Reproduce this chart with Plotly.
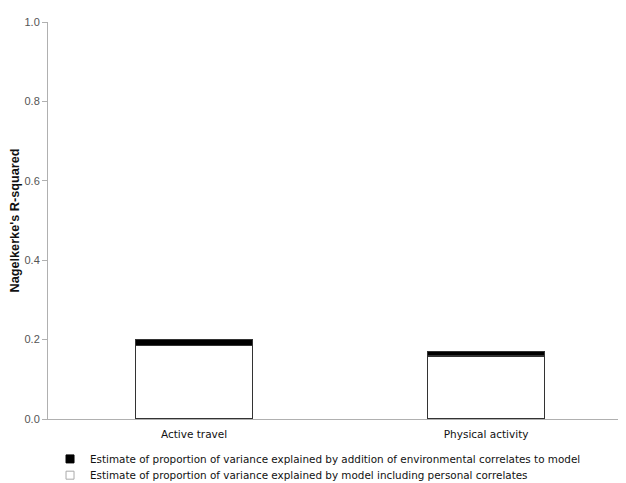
import plotly.graph_objects as go

categories = ["Active travel", "Physical activity"]
personal = [0.186, 0.159]
environmental = [0.015, 0.010]
legend_personal = "Estimate of proportion of variance explained by model including personal correlates"
legend_env = "Estimate of proportion of variance explained by addition of environmental correlates to model"
y_ticks = [0.0, 0.2, 0.4, 0.6, 0.8, 1.0]
y_ticktext = ["0.0", "0.2", "0.4", "0.6", "0.8", "1.0"]

fig = go.Figure()
fig.add_trace(go.Bar(
    x=categories, y=personal, name=legend_personal,
    marker=dict(color="white", line=dict(color="#333333", width=1.5)),
    width=0.40, showlegend=False,
))
fig.add_trace(go.Bar(
    x=categories, y=environmental, name=legend_env,
    marker=dict(color="black", line=dict(color="#333333", width=1.0)),
    width=0.40, showlegend=False,
))
# legend entries
fig.add_trace(go.Scatter(
    x=[None], y=[None], mode="markers", name=legend_env, legend="legend",
    marker=dict(symbol="square", size=8, color="black", line=dict(color="black", width=1)),
))
fig.add_trace(go.Scatter(
    x=[None], y=[None], mode="markers", name=legend_personal, legend="legend2",
    marker=dict(symbol="square", size=8, color="white", line=dict(color="#aaaaaa", width=1)),
))

legend_font = dict(family="DejaVu Sans", size=10.4, color="#111111")
fig.update_layout(
    width=618, height=475,
    barmode="stack",
    plot_bgcolor="white", paper_bgcolor="white",
    margin=dict(l=40, r=0, t=14, b=64, autoexpand=False),
    showlegend=True,
    legend=dict(x=0.0035, y=-0.064, xanchor="left", yanchor="top",
                font=legend_font, itemsizing="trace", bgcolor="rgba(0,0,0,0)"),
    legend2=dict(x=0.0035, y=-0.105, xanchor="left", yanchor="top",
                 font=legend_font, itemsizing="trace", bgcolor="rgba(0,0,0,0)"),
    xaxis=dict(
        type="category", range=[-0.5, 1.479],
        showline=True, linecolor="#b0b0b0", linewidth=1,
        ticks="", showgrid=False, automargin=False, ticklabelstandoff=5,
        tickfont=dict(family="DejaVu Sans", size=10.5, color="#111111"),
    ),
    yaxis=dict(
        range=[0, 1], tickvals=y_ticks, ticktext=y_ticktext,
        showline=True, linecolor="#b0b0b0", linewidth=1,
        ticks="outside", ticklen=5, tickcolor="#b0b0b0",
        showgrid=False, zeroline=False, automargin=False,
        tickfont=dict(family="Liberation Sans", size=11, color="#555555"),
        title=dict(text="<b>Nagelkerke's R-squared</b>",
                   font=dict(family="Liberation Sans", size=12.7, color="#111111"),
                   standoff=2),
    ),
)

fig.write_html("out.html")
